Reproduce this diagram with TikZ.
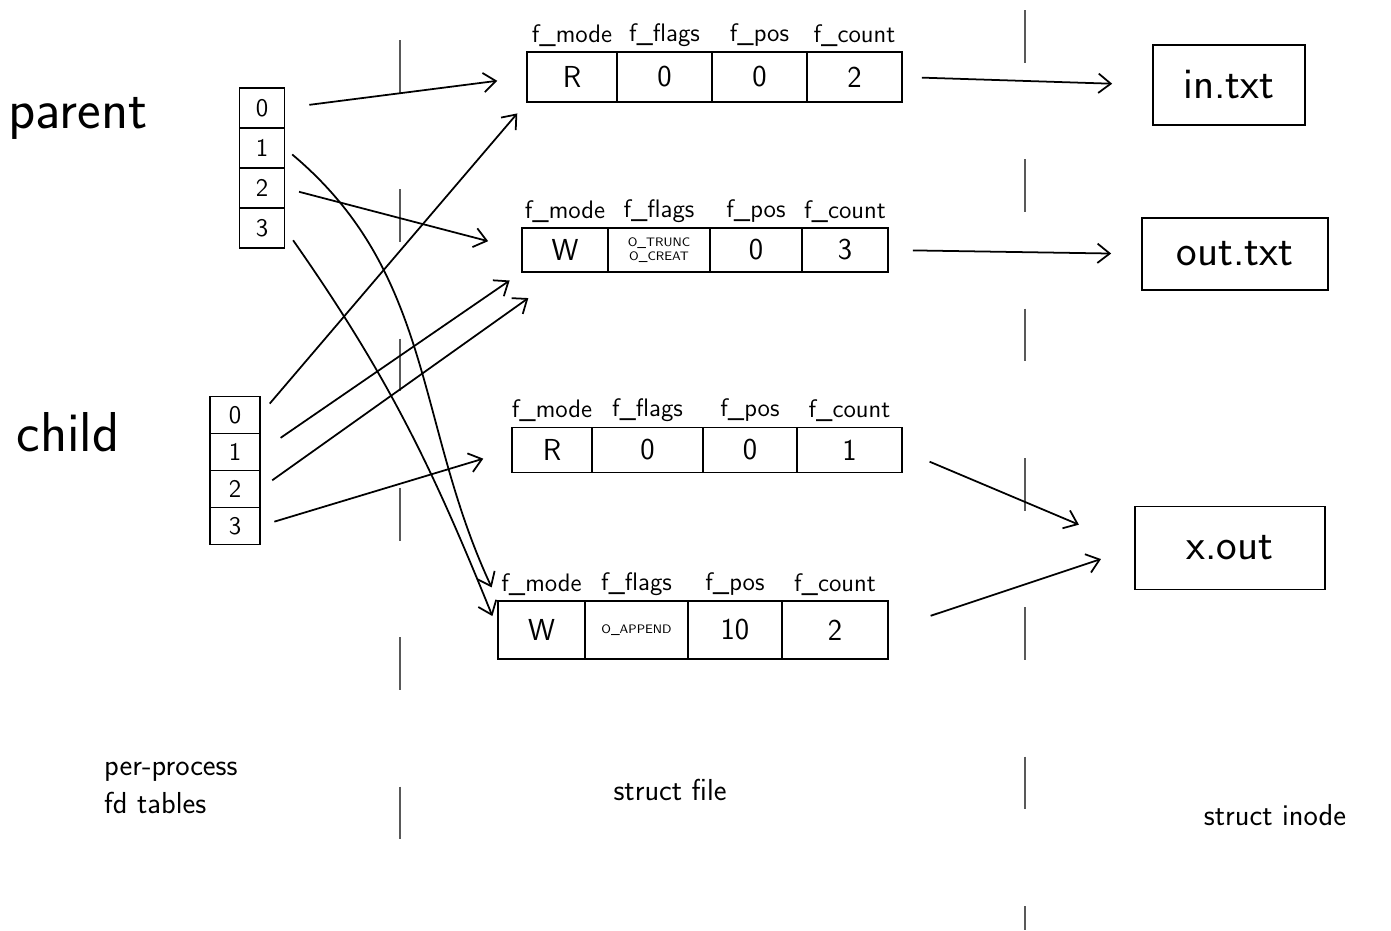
\documentclass[tikz,border=0pt]{standalone}
\usetikzlibrary{arrows.meta, positioning}

\begin{document}
\begin{tikzpicture}[
    x=0.02cm, y=-0.02cm,
    cell/.style={draw, line width=1pt, inner sep=0pt, outer sep=0pt,
                 align=center, font=\LARGE\sffamily},
    flagtxt/.style={font=\scriptsize\sffamily},
    fd/.style={draw, line width=1pt, minimum width=0.9cm, minimum height=0.8cm,
               inner sep=0pt, outer sep=0pt, font=\Large\sffamily},
    hdr/.style={anchor=south, inner sep=3pt, font=\Large\sffamily},
    inode/.style={draw, line width=1pt, font=\Huge\sffamily},
    proc/.style={font=\fontsize{32}{36}\selectfont\sffamily},
    caption/.style={font=\LARGE\sffamily},
    ptr/.style={->, line width=1pt},
    divider/.style={gray!70!black, line width=0.8pt, dash pattern=on 30pt off 55pt},
    >={Straight Barb[length=7pt, width=11pt]}
  ]
  \useasboundingbox (0,0) rectangle (1391,930);

  % column dividers
  \draw[divider] (400,40) -- (400,930);
  \draw[divider] (1025,10) -- (1025,930);

  % process labels
  \node[proc] (parent) at (78,118) {parent};
  \node[proc] (child) at (68,432) {child};

  % per-process fd tables
  \node[fd] (p0) at (262,108) {0};
  \node[fd, below=0pt of p0] (p1) {1};
  \node[fd, below=0pt of p1] (p2) {2};
  \node[fd, below=0pt of p2] (p3) {3};

  \node[fd, minimum width=1cm, minimum height=0.74cm] (c0) at (235,415) {0};
  \node[fd, minimum width=1cm, minimum height=0.74cm, below=0pt of c0] (c1) {1};
  \node[fd, minimum width=1cm, minimum height=0.74cm, below=0pt of c1] (c2) {2};
  \node[fd, minimum width=1cm, minimum height=0.74cm, below=0pt of c2] (c3) {3};

  % struct file 1
  \node[cell, minimum width=1.8cm, minimum height=1cm, anchor=west] (f1mode) at (527,77) {R};
  \node[cell, minimum width=1.9cm, minimum height=1cm, right=0pt of f1mode] (f1flags) {0};
  \node[cell, minimum width=1.9cm, minimum height=1cm, right=0pt of f1flags] (f1pos) {0};
  \node[cell, minimum width=1.9cm, minimum height=1cm, right=0pt of f1pos] (f1count) {2};

  % struct file 2
  \node[cell, minimum width=1.72cm, minimum height=0.88cm, anchor=west] (f2mode) at (522,250) {W};
  \node[cell, flagtxt, minimum width=2.04cm, minimum height=0.88cm, right=0pt of f2mode] (f2flags)
    {O\_TRUNC\\O\_CREAT};
  \node[cell, minimum width=1.84cm, minimum height=0.88cm, right=0pt of f2flags] (f2pos) {0};
  \node[cell, minimum width=1.72cm, minimum height=0.88cm, right=0pt of f2pos] (f2count) {3};

  % struct file 3
  \node[cell, minimum width=1.6cm, minimum height=0.9cm, anchor=west] (f3mode) at (512,450) {R};
  \node[cell, minimum width=2.22cm, minimum height=0.9cm, right=0pt of f3mode] (f3flags) {0};
  \node[cell, minimum width=1.88cm, minimum height=0.9cm, right=0pt of f3flags] (f3pos) {0};
  \node[cell, minimum width=2.1cm, minimum height=0.9cm, right=0pt of f3pos] (f3count) {1};

  % struct file 4
  \node[cell, minimum width=1.74cm, minimum height=1.16cm, anchor=west] (f4mode) at (498,630) {W};
  \node[cell, flagtxt, minimum width=2.06cm, minimum height=1.16cm, right=0pt of f4mode] (f4flags)
    {O\_APPEND};
  \node[cell, minimum width=1.88cm, minimum height=1.16cm, right=0pt of f4flags] (f4pos) {10};
  \node[cell, minimum width=2.12cm, minimum height=1.16cm, right=0pt of f4pos] (f4count) {2};

  % field names
  \node[hdr] at (f1mode.north) {f\_mode};
  \node[hdr] at (f1flags.north) {f\_flags};
  \node[hdr] at (f1pos.north) {f\_pos};
  \node[hdr] at (f1count.north) {f\_count};
  \node[hdr] at (f2mode.north) {f\_mode};
  \node[hdr] at (f2flags.north) {f\_flags};
  \node[hdr] at (f2pos.north) {f\_pos};
  \node[hdr] at (f2count.north) {f\_count};
  \node[hdr] at (f3mode.north) {f\_mode};
  \node[hdr] at (f3flags.north) {f\_flags};
  \node[hdr] at (f3pos.north) {f\_pos};
  \node[hdr] at (f3count.north) {f\_count};
  \node[hdr] at (f4mode.north) {f\_mode};
  \node[hdr] at (f4flags.north) {f\_flags};
  \node[hdr] at (f4pos.north) {f\_pos};
  \node[hdr] at (f4count.north) {f\_count};

  % inodes
  \node[inode, minimum width=3.04cm, minimum height=1.6cm] (intxt) at (1229,85) {in.txt};
  \node[inode, minimum width=3.72cm, minimum height=1.44cm] (outtxt) at (1235,254) {out.txt};
  \node[inode, minimum width=3.8cm, minimum height=1.66cm] (xout) at (1230,548) {x.out};

  % parent fds
  \draw[ptr, shorten <=0.5cm, shorten >=0.6cm] (p0.east) -- (f1mode.west);
  \draw[ptr, shorten <=0.2cm, shorten >=0.3cm] (p1.east) to[out=-40, in=115] (f4mode.north west);
  \draw[ptr, shorten <=0.3cm, shorten >=0.7cm] (p2.east) -- (f2mode.west);
  \draw[ptr, shorten <=0.3cm, shorten >=0.3cm] (p3.east) to[out=-55, in=112] (f4mode.west);

  % child fds
  \draw[ptr, shorten <=0.3cm, shorten >=0.3cm] (c0.east) -- (f1mode.south west);
  \draw[ptr, shorten <=0.5cm, shorten >=0.3cm] (c1.east) -- (f2mode.south west);
  \draw[ptr, shorten <=0.3cm, shorten >=0.9cm] (c2.east) -- (f2mode.south);
  \draw[ptr, shorten <=0.3cm, shorten >=0.6cm] (c3.east) -- (f3mode.west);

  % struct file -> inode
  \draw[ptr, shorten <=0.4cm, shorten >=0.8cm] (f1count.east) -- (intxt.west);
  \draw[ptr, shorten <=0.5cm, shorten >=0.6cm] (f2count.east) -- (outtxt.west);
  \draw[ptr, shorten <=0.6cm, shorten >=1.2cm] (f3count.east) -- (xout.west);
  \draw[ptr, shorten <=0.9cm, shorten >=0.7cm] (f4count.east) -- (xout.west);

  % column captions
  \node[caption, align=left, anchor=west] (fdcap) at (98,788) {per-process\\fd tables};
  \node[caption] (filecap) at (670,790) {struct file};
  \node[caption] (inodecap) at (1275,815) {struct inode};

\end{tikzpicture}
\end{document}
